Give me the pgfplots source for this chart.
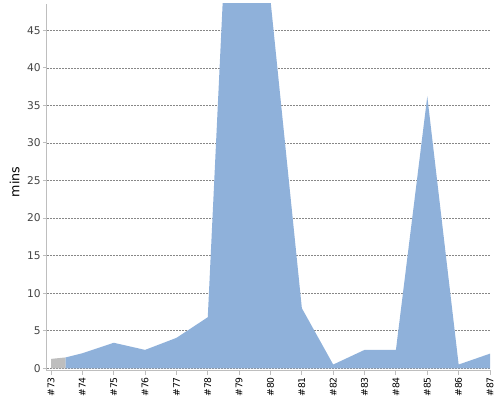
\documentclass[border=0pt]{standalone}
\usepackage{pgfplots}
\pgfplotsset{compat=1.18}
\usepackage{fontspec}
\setmainfont{DejaVu Sans}
\definecolor{areablue}{RGB}{143,177,218}
\definecolor{areagray}{RGB}{190,190,190}
\definecolor{axisgray}{RGB}{190,190,190}
\definecolor{gridgray}{RGB}{135,135,135}
\definecolor{labgray}{RGB}{68,68,68}
\begin{document}
\begin{tikzpicture}
\path[use as bounding box] (0,0) rectangle (375pt,300pt);
\begin{axis}[
  at={(35.25pt,21.75pt)}, anchor=south west,
  scale only axis,
  width=333pt, height=275.25pt,
  xmin=-0.1276, xmax=14.032,
  ymin=-0.36, ymax=48.5,
  axis lines*=left,
  axis line style={axisgray, line width=0.75pt},
  tick align=outside,
  major tick length=3pt,
  tick style={axisgray, line width=0.75pt},
  xtick={0,...,14},
  xticklabels={\#73,\#74,\#75,\#76,\#77,\#78,\#79,\#80,\#81,\#82,\#83,\#84,\#85,\#86,\#87},
  x tick label style={rotate=90, anchor=east, font=\fontsize{6.9pt}{7pt}\selectfont, inner sep=1.5pt},
  ytick={0,5,...,45},
  y tick label style={font=\fontsize{8pt}{9pt}\selectfont, text=labgray, inner sep=1.5pt},
  /pgf/number format/assume math mode=true,
  ymajorgrids,
  major grid style={gridgray, line width=0.4pt, dash pattern=on 1.5pt off 0.75pt},
  ylabel={mins},
  ylabel style={at={(axis description cs:-0.0727,0.515)}, anchor=center, font=\fontsize{9.5pt}{10pt}\selectfont, text=black},
  clip=true,
]
\addplot[draw=none, fill=areagray] coordinates {(0,1.25) (0.47,1.45)} \closedcycle;
\addplot[draw=none, fill=areablue] coordinates {
 (0.47,1.45) (1,2.0) (2,3.4) (3,2.45) (4,4.05) (5,6.8) (6,95) (7,49)
 (8,8.0) (9,0.5) (10,2.45) (11,2.45) (12,36.2) (13,0.5) (14,1.95)} \closedcycle;
\end{axis}
\end{tikzpicture}
\end{document}
